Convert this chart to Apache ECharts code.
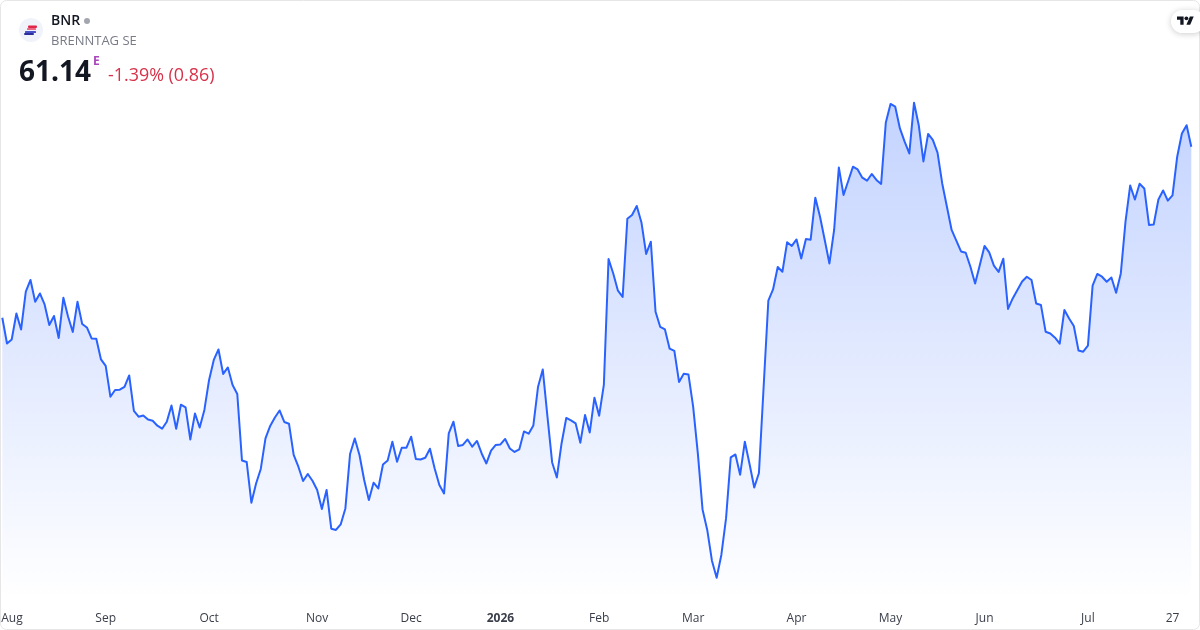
<!DOCTYPE html>
<html>
<head>
<meta charset="utf-8">
<style>html,body{margin:0;padding:0;background:#fff}#c{width:1200px;height:630px}</style>
<script src="https://cdn.jsdelivr.net/npm/echarts@6/dist/echarts.min.js"></script>
</head>
<body>
<div id="c"></div>
<script>
const symbolName = 'BNR';
const companyName = 'BRENNTAG SE';
const lastPrice = '61.14';
const changeText = '-1.39% (0.86)';
const sessionMark = 'E';

const startDate = '2025-07-31';
const endDate = '2026-07-31';
const marketHolidays = ['2025-12-24','2025-12-25','2025-12-26','2025-12-31','2026-01-01','2026-04-03','2026-04-06','2026-05-01'];
const tickDates = ['2025-08-01','2025-09-01','2025-10-01','2025-11-03','2025-12-01','2026-01-02','2026-02-02','2026-03-02','2026-04-01','2026-05-04','2026-06-01','2026-07-01','2026-07-27'];
const tickLabels = ['Aug','Sep','Oct','Nov','Dec','2026','Feb','Mar','Apr','May','Jun','Jul','27'];

const prices = [
54.30,53.27,53.43,54.47,53.83,55.34,55.81,54.94,55.27,54.83,54.01,54.37,53.49,55.10,54.34,53.73,
54.94,54.05,53.91,53.47,53.46,52.63,52.37,51.14,51.41,51.42,51.53,51.99,50.57,50.34,50.39,50.23,
50.18,49.98,49.86,50.14,50.79,49.86,50.82,50.71,49.43,50.47,49.91,50.61,51.81,52.61,53.03,52.05,
52.31,51.61,51.25,48.59,48.53,46.90,47.67,48.25,49.47,49.97,50.31,50.59,50.13,50.06,48.81,48.34,
47.77,48.05,47.78,47.41,46.65,47.41,45.86,45.81,46.03,46.67,48.85,49.47,48.81,47.81,47.01,47.70,
47.47,48.43,48.59,49.34,48.54,49.10,49.10,49.54,48.65,48.63,48.70,49.06,48.27,47.61,47.27,49.67,
50.14,49.17,49.21,49.43,49.14,49.37,48.87,48.47,48.98,49.21,49.23,49.45,49.07,48.93,49.03,49.75,
49.66,49.99,51.54,52.23,50.34,48.51,47.91,49.27,50.29,50.19,50.07,49.30,50.41,49.71,51.10,50.38,
51.61,56.65,56.07,55.38,55.13,58.26,58.41,58.77,58.11,56.85,57.34,54.54,53.93,53.83,53.06,52.97,
51.73,52.06,52.03,50.74,48.87,46.63,45.81,44.58,43.90,44.81,46.27,48.71,48.83,48.02,49.34,48.45,
47.51,48.09,51.54,54.98,55.43,56.33,56.14,57.32,57.17,57.43,56.67,57.45,57.42,59.10,58.34,57.41,
56.47,57.81,60.31,59.21,59.77,60.34,60.23,59.90,59.78,60.05,59.81,59.65,62.11,62.85,62.74,61.87,
61.34,60.87,62.90,62.01,60.55,61.65,61.41,60.90,59.67,58.74,57.81,57.38,56.95,56.90,56.34,55.67,
56.41,57.17,56.91,56.38,56.13,56.66,54.65,55.07,55.41,55.75,55.94,55.81,54.87,54.81,53.74,53.67,
53.50,53.26,54.61,54.27,53.97,52.99,52.94,53.18,55.58,56.05,55.94,55.74,55.91,55.30,56.07,58.14,
59.59,59.03,59.66,59.47,58.01,58.03,59.03,59.39,58.98,59.19,60.74,61.67,62.00,61.14
];

const dates = [];
for (let t = Date.parse(startDate + 'T00:00:00Z'); t <= Date.parse(endDate + 'T00:00:00Z'); t += 864e5) {
  const d = new Date(t), s = d.toISOString().slice(0, 10), w = d.getUTCDay();
  if (w !== 0 && w !== 6 && !marketHolidays.includes(s)) dates.push(s);
}

const font = '"Open Sans", "Noto Sans", sans-serif';
const chart = echarts.init(document.getElementById('c'), null, {renderer: 'canvas'});
chart.setOption({
  animation: false,
  backgroundColor: '#ffffff',
  grid: {left: 2.3, right: 8.7, top: 100.2, height: 500, outerBoundsMode: 'none'},
  xAxis: {
    type: 'category', data: dates, boundaryGap: false,
    axisLine: {show: false}, axisTick: {show: false}, splitLine: {show: false},
    axisLabel: {
      margin: 12, color: '#3a3e4a', fontFamily: font, fontSize: 12, hideOverlap: false,
      interval: (i, v) => tickDates.includes(v),
      formatter: v => {
        const l = tickLabels[tickDates.indexOf(v)];
        if (l === '2026') return '{y|' + l + '}';
        if (l === 'Aug') return '{a|' + l + '}';
        return l;
      },
      rich: {
        y: {fontFamily: font, fontSize: 12, fontWeight: 700, color: '#3a3e4a'},
        a: {fontFamily: font, fontSize: 12, color: '#3a3e4a', padding: [0, 0, 0, 10]}
      }
    }
  },
  yAxis: {type: 'value', min: 43, max: 63, show: false, splitLine: {show: false}},
  series: [{
    type: 'line', data: prices, symbol: 'none', smooth: false,
    lineStyle: {color: '#2962ff', width: 2, join: 'round'},
    areaStyle: {
      origin: 'start', opacity: 1,
      color: new echarts.graphic.LinearGradient(0, 0, 0, 1, [
        {offset: 0, color: 'rgba(41,98,255,0.28)'},
        {offset: 1, color: 'rgba(41,98,255,0)'}
      ])
    }
  }],
  graphic: [
    {type: 'rect', silent: true, z: 0, shape: {x: 0.5, y: 0.5, width: 1199, height: 629, r: 6}, style: {fill: 'none', stroke: '#e6e6e6', lineWidth: 1}},
    {type: 'circle', z: 5, shape: {cx: 31, cy: 30, r: 12}, style: {fill: '#f0f3fa'}},
    {type: 'rect', z: 6, shape: {x: 28, y: 25.5, width: 9, height: 2.5, r: 1}, style: {fill: '#e0274a'}},
    {type: 'rect', z: 6, shape: {x: 27, y: 28, width: 9, height: 2, r: 0.5}, style: {fill: '#e86a86'}},
    {type: 'rect', z: 6, shape: {x: 25, y: 31, width: 11, height: 2, r: 0.5}, style: {fill: '#4a50c8'}},
    {type: 'rect', z: 6, shape: {x: 24, y: 33, width: 10, height: 2, r: 1}, style: {fill: '#2a2f9c'}},
    {type: 'text', z: 6, x: 51, y: 21, style: {text: symbolName, fontFamily: font, fontSize: 14, fontWeight: 600, fill: '#131722', align: 'left', verticalAlign: 'middle'}},
    {type: 'circle', z: 6, shape: {cx: 87, cy: 21, r: 3}, style: {fill: '#a3a6af'}},
    {type: 'text', z: 6, x: 51, y: 41, style: {text: companyName, fontFamily: font, fontSize: 13, fill: '#787b86', align: 'left', verticalAlign: 'middle'}},
    {type: 'text', z: 6, x: 19, y: 73, style: {text: lastPrice, fontFamily: font, fontSize: 28, fontWeight: 700, fill: '#131722', align: 'left', verticalAlign: 'middle'}},
    {type: 'text', z: 6, x: 93, y: 62, style: {text: sessionMark, fontFamily: font, fontSize: 12, fontWeight: 700, fill: '#ab47bc', align: 'left', verticalAlign: 'middle'}},
    {type: 'text', z: 6, x: 108, y: 76, style: {text: changeText, fontFamily: font, fontSize: 17.9, fill: '#d6324a', align: 'left', verticalAlign: 'middle'}},
    {type: 'rect', z: 7, shape: {x: 1171, y: 10, width: 34, height: 23, r: 11.5}, style: {fill: '#ffffff', shadowBlur: 6, shadowColor: 'rgba(0,0,0,0.2)', shadowOffsetY: 1}},
    {type: 'polygon', z: 8, shape: {points: [[1177, 16.4], [1183.6, 16.4], [1183.6, 24.8], [1180.3, 24.8], [1180.3, 19.7], [1177, 19.7]]}, style: {fill: '#131722'}},
    {type: 'polygon', z: 8, shape: {points: [[1189.9, 16.4], [1193.7, 16.4], [1190.2, 24.8], [1186.4, 24.8]]}, style: {fill: '#131722'}},
    {type: 'circle', z: 8, shape: {cx: 1186.4, cy: 18.3, r: 1.9}, style: {fill: '#131722'}}
  ]
});
</script>
</body>
</html>
